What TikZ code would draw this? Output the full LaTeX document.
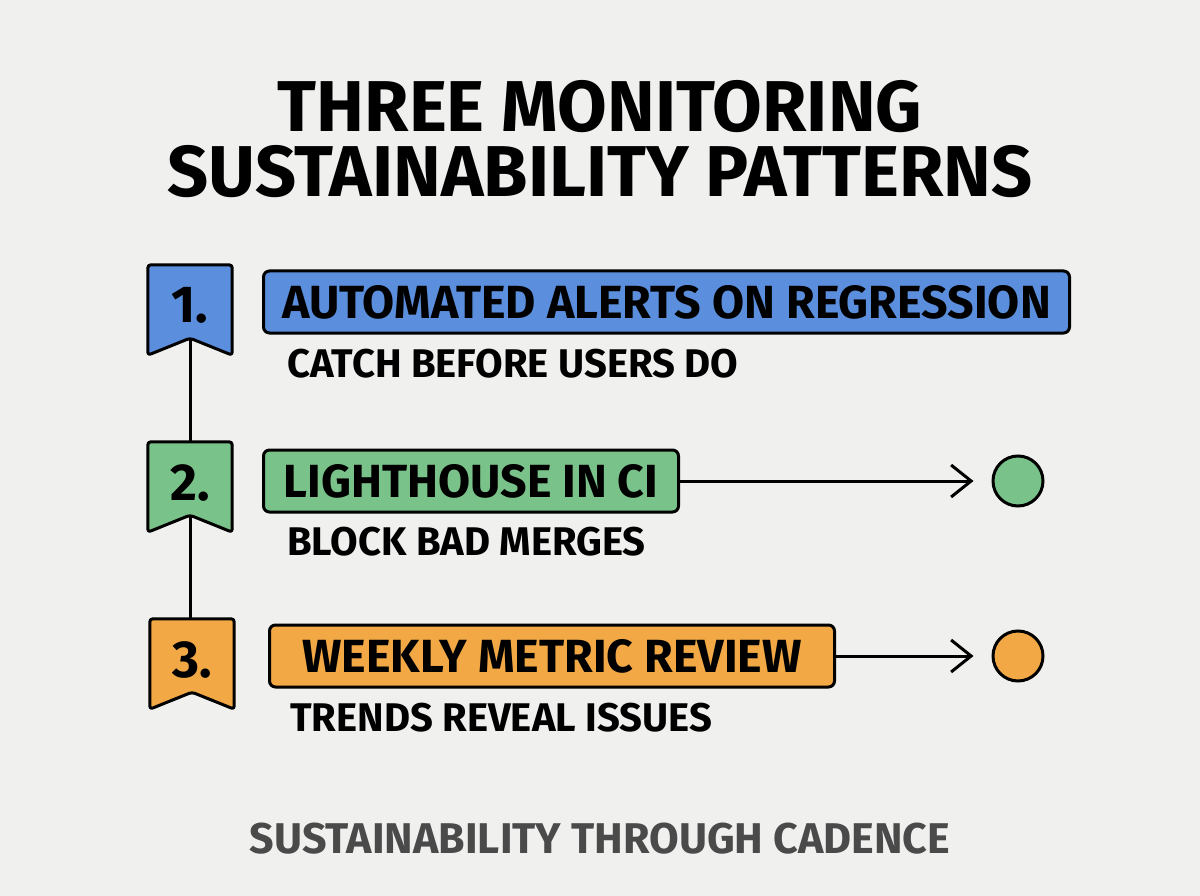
\documentclass[tikz,border=0pt]{standalone}
\usepackage{fontspec}
\setmainfont{Fira Sans}
\usetikzlibrary{arrows.meta}

\definecolor{paper}{HTML}{F0F0EE}
\definecolor{sblue}{HTML}{5B8FDD}
\definecolor{sgreen}{HTML}{79C38A}
\definecolor{sorange}{HTML}{F2A845}
\definecolor{foot}{HTML}{4A4A4A}

% ribbon badge drawn round an empty node
\newcommand{\ribbon}[2]{%
  \draw[line width=3pt, rounded corners=3pt, line join=round, fill=#2]
    (#1.north west) -- (#1.north east) -- (#1.south east)
    -- ([yshift=17pt]#1.south) -- (#1.south west) -- cycle;
  \coordinate (#1-tip) at ([yshift=17pt]#1.south);
}

\begin{document}
\begin{tikzpicture}[x=1pt,y=-1pt,
        title/.style={font=\bfseries\fontsize{72}{72}\selectfont, text height=49pt, text depth=0pt, inner sep=0pt},
        tag/.style={minimum width=84pt, minimum height=90pt, inner sep=0pt},
        num/.style={font=\bfseries\fontsize{52}{52}\selectfont, text height=36pt, text depth=0pt, inner sep=0pt},
        item/.style={draw, line width=3pt, rounded corners=6pt, anchor=west, minimum height=62pt, inner xsep=12pt, text height=32pt, text depth=0pt, font=\bfseries\fontsize{46.5}{46.5}\selectfont},
        sub/.style={anchor=west, inner sep=0pt, text height=28pt, text depth=0pt, font=\bfseries\fontsize{40}{40}\selectfont},
        dot/.style={circle, draw, line width=3pt, minimum size=50pt, inner sep=0pt},
        link/.style={line width=3pt, -{Straight Barb[length=20pt, width=32pt]}, shorten >=18pt}
    ]

    \fill[paper] (0,0) rectangle (1200,896);

    \node[title] (head1) at (600,107) {THREE MONITORING};
    \node[title] (head2) at (600,172) {SUSTAINABILITY PATTERNS};

    % badges
    \node[tag] (b1) at (190,310) {};
    \ribbon{b1}{sblue}
    \node[num] (n1) at ([yshift=5pt]b1.center) {1.};
    \node[tag] (b2) at (190,487) {};
    \ribbon{b2}{sgreen}
    \node[num] (n2) at ([yshift=5pt]b2.center) {2.};
    \node[tag] (b3) at (192,664) {};
    \ribbon{b3}{sorange}
    \node[num] (n3) at ([yshift=5pt]b3.center) {3.};

    \draw[line width=3pt] (b1-tip) -- (b2.north);
    \draw[line width=3pt] (b2-tip) -- (b2-tip |- b3.north);

    % patterns
    \node[item, fill=sblue, minimum width=806pt] (i1) at (262,302) {AUTOMATED ALERTS ON REGRESSION};
    \node[sub] (s1) at (287,363) {CATCH BEFORE USERS DO};
    \node[item, fill=sgreen, minimum width=415pt] (i2) at (262,481) {LIGHTHOUSE IN CI};
    \node[sub] (s2) at (287,541) {BLOCK BAD MERGES};
    \node[item, fill=sorange, minimum width=565pt] (i3) at (268,656) {WEEKLY METRIC REVIEW};
    \node[sub] (s3) at (290,717) {TRENDS REVEAL ISSUES};

    \node[dot, fill=sgreen] (d2) at (1018,481) {};
    \node[dot, fill=sorange] (d3) at (1018,656) {};
    \draw[link] (i2) -- (d2);
    \draw[link] (i3) -- (d3);

    \node[font=\bfseries\fontsize{43}{43}\selectfont, text=foot, text height=30pt, text depth=0pt, inner sep=0pt] (foot) at (600,838) {SUSTAINABILITY THROUGH CADENCE};

\end{tikzpicture}
\end{document}
